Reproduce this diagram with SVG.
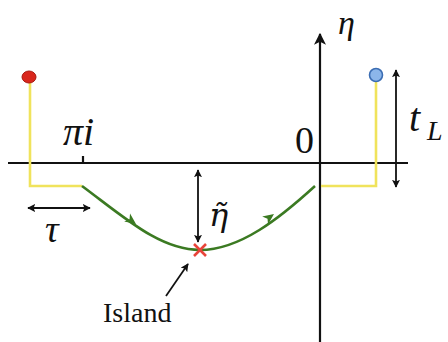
<svg xmlns="http://www.w3.org/2000/svg" width="448" height="342" viewBox="0 0 448 342">
<defs>
<marker id="ah" viewBox="0 0 10 10" refX="9" refY="5" markerWidth="8" markerHeight="8" orient="auto-start-reverse" markerUnits="userSpaceOnUse">
<path d="M0,0 L10,5 L0,10 L2,5 Z" fill="#111"/>
</marker>
<marker id="ahb" viewBox="0 0 10 10" refX="9" refY="5" markerWidth="12" markerHeight="12" orient="auto-start-reverse" markerUnits="userSpaceOnUse">
<path d="M0,0 L10,5 L0,10 L2.5,5 Z" fill="#111"/>
</marker>
<path id="gh" d="M0,0 L-11,-5 L-8,0 L-11,5 Z" fill="#3b7a22"/>
</defs>
<style>
.ax{stroke:#111;stroke-width:2.2;fill:none}
.ar{stroke:#111;stroke-width:1.8;fill:none}
.yl{stroke:#f0e35c;stroke-width:2.6;fill:none}
.gr{stroke:#3b7a22;stroke-width:2.6;fill:none}
.m{font-family:"Liberation Serif","DejaVu Serif",serif;font-style:italic;fill:#111}
.r{font-family:"Liberation Serif","DejaVu Serif",serif;fill:#111}
</style>
<rect width="448" height="342" fill="#fff"/>
<g id="axes">
<line class="ax" x1="8" y1="163" x2="408" y2="163"/>
<line class="ax" x1="320" y1="342" x2="320" y2="34" marker-end="url(#ahb)"/>
<line class="ax" x1="83" y1="156" x2="83" y2="163"/>
</g>
<g id="connectors">
<path class="yl" d="M30,80 L30,186 L82,186"/>
<path class="yl" d="M321,186 L376,186 L376,80"/>
<path class="gr" d="M82,186 C125,218 160,250 200,250 C240,250 280,218 315,186"/>
<use href="#gh" transform="translate(136,224) rotate(36)"/>
<use href="#gh" transform="translate(274,214) rotate(-36)"/>
<line class="ar" x1="28" y1="208" x2="90" y2="208" marker-start="url(#ah)" marker-end="url(#ah)"/>
<line class="ar" x1="198" y1="170" x2="198" y2="242" marker-start="url(#ah)" marker-end="url(#ah)"/>
<line class="ar" x1="396" y1="70" x2="396" y2="187" marker-start="url(#ah)" marker-end="url(#ah)"/>
<line class="ar" x1="166" y1="296" x2="188" y2="264" marker-end="url(#ah)"/>
</g>
<g id="red-dot"><ellipse cx="29" cy="77" rx="7" ry="6" fill="#d9261c" stroke="#a8180f" stroke-width="1"/></g>
<g id="blue-dot"><circle cx="376" cy="75" r="6.5" fill="#8cb6ea" stroke="#3b6db3" stroke-width="1.6"/></g>
<g id="island-point"><path d="M194,244 L206,256 M206,244 L194,256" stroke="#e8443a" stroke-width="2.6"/></g>
<g id="labels">
<text class="m" x="63" y="145" font-size="40">πi</text>
<text class="r" x="295" y="153" font-size="38">0</text>
<text class="m" x="338" y="34" font-size="34">η</text>
<text class="m" x="409" y="131" font-size="40">t</text>
<text class="m" x="427" y="140" font-size="28">L</text>
<text x="209" y="226" font-size="32" font-family="'DejaVu Serif',serif" font-style="italic" fill="#111">η̃</text>
<text class="m" x="45" y="242" font-size="38">τ</text>
<text class="r" x="103" y="322" font-size="28">Island</text>
</g>
</svg>
